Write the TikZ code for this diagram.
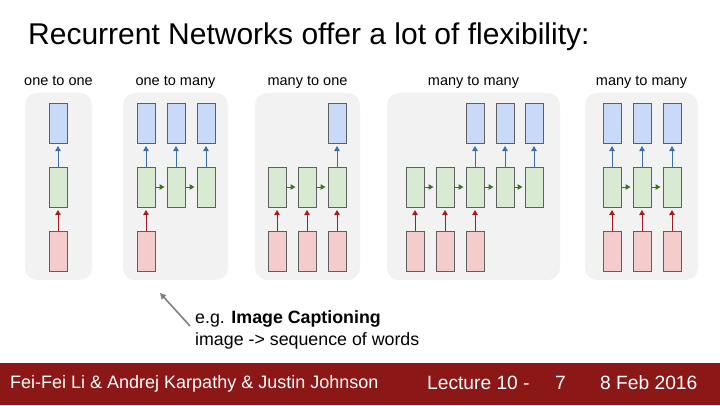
\documentclass[tikz,border=0pt]{standalone}
\usepackage{fontspec}
\setmainfont{Liberation Sans}
\usetikzlibrary{arrows.meta, positioning}

\definecolor{panelgray}{HTML}{F2F2F2}
\definecolor{boxgray}{HTML}{5F5F5F}
\definecolor{inred}{HTML}{F4CCCC}
\definecolor{hidgreen}{HTML}{D9EAD3}
\definecolor{outblue}{HTML}{C9DAF8}
\definecolor{arrred}{HTML}{A61C1C}
\definecolor{arrgreen}{HTML}{38761D}
\definecolor{arrblue}{HTML}{3D6EA8}
\definecolor{footred}{HTML}{8B1717}

\begin{document}
\begin{tikzpicture}[
x=1pt, y=-1pt,
every node/.style={font=\fontsize{14.5}{17}\selectfont},
panel/.style={fill=panelgray, rounded corners=12pt, minimum height=187, inner sep=0pt},
kind/.style={anchor=base, inner sep=0pt},
cell/.style={draw=boxgray, line width=1pt, minimum width=18, minimum height=40, inner sep=0pt},
inp/.style={cell, fill=inred},
hid/.style={cell, fill=hidgreen},
outp/.style={cell, fill=outblue},
tip/.style={-{Triangle[width=5.5pt,length=5pt]}, line width=1pt, shorten >=2.5pt},
redarr/.style={tip, draw=arrred, fill=arrred},
greenarr/.style={tip, draw=arrgreen, fill=arrgreen, shorten >=2pt},
bluearr/.style={tip, draw=arrblue, fill=arrblue},
footer/.style={text=white, anchor=base west, font=\fontsize{19.2}{22}\selectfont, inner sep=0pt}
]
\useasboundingbox (0,0) rectangle (720,405);

% title
\node[anchor=base west, inner sep=0pt, font=\fontsize{30}{34}\selectfont] (title) at (28,44)
{Recurrent Networks offer a lot of flexibility:};

% panels
\node[panel, minimum width=67] (p1) at (58.5,186.5) {};
\node[panel, minimum width=105] (p2) at (175.5,186.5) {};
\node[panel, minimum width=105] (p3) at (307.5,186.5) {};
\node[panel, minimum width=173] (p4) at (473.5,186.5) {};
\node[panel, minimum width=113] (p5) at (641.5,186.5) {};

\node[kind] (k1) at (p1.center |- 0,85) {one to one};
\node[kind] (k2) at (p2.center |- 0,85) {one to many};
\node[kind] (k3) at (p3.center |- 0,85) {many to one};
\node[kind] (k4) at (p4.center |- 0,85) {many to many};
\node[kind] (k5) at (p5.center |- 0,85) {many to many};

% one to one
\node[inp] (a-i1) at (58,251) {};
\node[hid] (a-h1) at (58,187) {};
\node[outp] (a-o1) at (58,123) {};
\draw[redarr] (a-i1) -- (a-h1);
\draw[bluearr] (a-h1) -- (a-o1);

% one to many
\foreach \i/\x in {1/146,2/176,3/206} {
  \node[hid] (b-h\i) at (\x,187) {};
  \node[outp] (b-o\i) at (\x,123) {};
  \draw[bluearr] (b-h\i) -- (b-o\i);
}
\node[inp] (b-i1) at (146,251) {};
\draw[redarr] (b-i1) -- (b-h1);
\foreach \i/\j in {1/2,2/3}
  \draw[greenarr] (b-h\i) -- (b-h\j);

% many to one
\foreach \i/\x in {1/277,2/307,3/337} {
  \node[hid] (c-h\i) at (\x,187) {};
  \node[inp] (c-i\i) at (\x,251) {};
  \draw[redarr] (c-i\i) -- (c-h\i);
}
\node[outp] (c-o3) at (337,123) {};
\draw[bluearr] (c-h3) -- (c-o3);
\foreach \i/\j in {1/2,2/3}
  \draw[greenarr] (c-h\i) -- (c-h\j);

% many to many (delayed)
\foreach \i/\x in {1/415,2/445,3/475,4/505,5/534}
  \node[hid] (d-h\i) at (\x,187) {};
\foreach \i/\x in {1/415,2/445,3/475} {
  \node[inp] (d-i\i) at (\x,251) {};
  \draw[redarr] (d-i\i) -- (d-h\i);
}
\foreach \i/\x in {3/475,4/505,5/534} {
  \node[outp] (d-o\i) at (\x,123) {};
  \draw[bluearr] (d-h\i) -- (d-o\i);
}
\foreach \i/\j in {1/2,2/3,3/4,4/5}
  \draw[greenarr] (d-h\i) -- (d-h\j);

% many to many (synced)
\foreach \i/\x in {1/612,2/642,3/672} {
  \node[inp] (e-i\i) at (\x,251) {};
  \node[hid] (e-h\i) at (\x,187) {};
  \node[outp] (e-o\i) at (\x,123) {};
  \draw[redarr] (e-i\i) -- (e-h\i);
  \draw[bluearr] (e-h\i) -- (e-o\i);
}
\foreach \i/\j in {1/2,2/3}
  \draw[greenarr] (e-h\i) -- (e-h\j);

% caption
\node[anchor=base west, align=left, inner sep=0pt, font=\fontsize{17.8}{22}\selectfont] (cap) at (195,345)
{e.g. \textbf{Image Captioning}\\image -> sequence of words};
\coordinate (captip) at (160,293);
\draw[-{Triangle[width=6pt,length=6pt]}, draw=gray, fill=gray, line width=1.6pt] (190,326) -- (captip);

% footer
\fill[footred] (0,363) rectangle (720,405);
\node[footer, font=\fontsize{18}{20}\selectfont] (names) at (10,388)
{Fei-Fei Li \& Andrej Karpathy \& Justin Johnson};
\node[footer] (lect) at (427,389) {Lecture 10 -};
\node[footer] (page) at (555,389) {7};
\node[footer] (date) at (600,389) {8 Feb 2016};

\end{tikzpicture}
\end{document}
